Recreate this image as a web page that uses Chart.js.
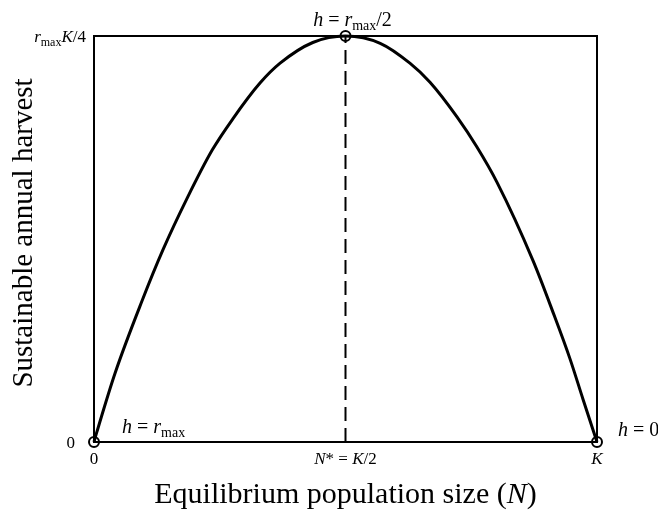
<!DOCTYPE html>
<html>
<head>
<meta charset="utf-8">
<script src="https://cdn.jsdelivr.net/npm/chart.js@4/dist/chart.umd.min.js"></script>
<style>
  html, body { margin: 0; padding: 0; background: #fff; }
  canvas { display: block; }
</style>
</head>
<body>
<canvas id="chartCanvas" width="658" height="511"></canvas>
<script>
// curve: N as % of K, harvest as % of rmax*K/4
const harvestN = [0, 0.6, 4.2, 9.5, 13.7, 18.5, 23.5, 27.6, 33.0, 37.0, 43.5, 50, 56.9, 62.8, 66.8, 72.2, 76.1, 80.1, 87.3, 91.3, 94.6, 97.2, 100];
const harvestH = [0, 2.6, 17.0, 34.6, 47.3, 60.0, 71.9, 79.6, 88.4, 93.3, 98.4, 100, 98.2, 93.3, 88.6, 80.0, 72.7, 64.0, 44.6, 31.8, 20.6, 10.6, 0];

// open circles
const markN = [0, 50, 100];
const markH = [0, 100, 0];

// dashed line at N* = K/2
const nStar = 50;
const hTop = 100;

// tick labels (parts: i = italic, s = subscript, n = normal)
const xTickValues = [0, 50, 100];
const xTickLabels = [
    [['0', 'n']],
    [['N', 'i'], ['* = ', 'n'], ['K', 'i'], ['/2', 'n']],
    [['K', 'i']]
];
const yTickValues = [0, 100];
const yTickLabels = [
    [['0', 'n']],
    [['r', 'i'], ['max', 's'], ['K', 'i'], ['/4', 'n']]
];

// labels next to the circles
const markLabels = [
    [['h', 'i'], [' = ', 'n'], ['r', 'i'], ['max', 's']],
    [['h', 'i'], [' = ', 'n'], ['r', 'i'], ['max', 's'], ['/2', 'n']],
    [['h', 'i'], [' = 0', 'n']]
];

const xTitle = [['Equilibrium population size (', 'n'], ['N', 'i'], [')', 'n']];
const yTitle = 'Sustainable annual harvest';

const FONT = '"Liberation Serif", "Times New Roman", serif';

function partFont(style, size) {
    if (style == 's') return `${Math.round(size * 0.68)}px ${FONT}`;
    if (style == 'i') return `italic ${size}px ${FONT}`;
    return `${size}px ${FONT}`;
}

function richWidth(ctx, parts, size) {
    let w = 0;
    parts.forEach(p => {
        ctx.font = partFont(p[1], size);
        w += ctx.measureText(p[0]).width;
    });
    return w;
}

// draws text pieces on one baseline; align is left / center / right
function drawRich(ctx, parts, x, y, align, size) {
    const w = richWidth(ctx, parts, size);
    let cx = x;
    if (align == 'center') cx = x - w / 2;
    if (align == 'right') cx = x - w;
    ctx.textBaseline = 'alphabetic';
    ctx.textAlign = 'left';
    parts.forEach(p => {
        ctx.font = partFont(p[1], size);
        const dy = p[1] == 's' ? size * 0.22 : 0;
        ctx.fillText(p[0], cx, y + dy);
        cx += ctx.measureText(p[0]).width;
    });
}

const textPlugin = {
    id: 'textPlugin',
    beforeDatasetsDraw(chart) {
        const { ctx, chartArea } = chart;
        ctx.save();
        ctx.strokeStyle = '#000';
        ctx.lineWidth = 2;
        ctx.strokeRect(chartArea.left, chartArea.top, chartArea.right - chartArea.left, chartArea.bottom - chartArea.top);
        ctx.restore();
    },
    afterDraw(chart) {
        const { ctx, chartArea } = chart;
        const xs = chart.scales.x;
        const ys = chart.scales.y;
        ctx.save();
        ctx.fillStyle = '#000';

        xTickValues.forEach((v, i) => {
            drawRich(ctx, xTickLabels[i], xs.getPixelForValue(v), ys.getPixelForValue(0) + 22, 'center', 17);
        });
        // the bottom "0" sits further from the axis than the top label
        yTickValues.forEach((v, i) => {
            const gap = i == 0 ? 19 : 8;
            drawRich(ctx, yTickLabels[i], xs.getPixelForValue(0) - gap, ys.getPixelForValue(v) + 6, 'right', 17);
        });

        drawRich(ctx, markLabels[0], xs.getPixelForValue(markN[0]) + 28, ys.getPixelForValue(markH[0]) - 9, 'left', 20);
        drawRich(ctx, markLabels[1], xs.getPixelForValue(markN[1]) + 7, ys.getPixelForValue(markH[1]) - 10, 'center', 20);
        drawRich(ctx, markLabels[2], xs.getPixelForValue(markN[2]) + 21, ys.getPixelForValue(markH[2]) - 6, 'left', 20);

        drawRich(ctx, xTitle, (chartArea.left + chartArea.right) / 2, 503, 'center', 30);

        ctx.translate(32, (chartArea.top + chartArea.bottom) / 2 - 6);
        ctx.rotate(-Math.PI / 2);
        drawRich(ctx, [[yTitle, 'n']], 0, 0, 'center', 29);
        ctx.restore();
    }
};

const ctx = document.getElementById('chartCanvas').getContext('2d');
const chart = new Chart(ctx, {
    type: 'scatter',
    data: {
        datasets: [{
            label: 'harvest',
            data: harvestN.map((n, i) => ({ x: n, y: harvestH[i] })),
            showLine: true,
            borderColor: '#000',
            borderWidth: 3,
            pointRadius: 0,
            cubicInterpolationMode: 'monotone',
            clip: false
        }, {
            label: 'N*',
            data: [{ x: nStar, y: 0 }, { x: nStar, y: hTop }],
            showLine: true,
            borderColor: '#000',
            borderWidth: 2,
            borderDash: [14, 7],
            pointRadius: 0
        }, {
            label: 'marks',
            data: markN.map((n, i) => ({ x: n, y: markH[i] })),
            pointRadius: 5,
            pointBorderWidth: 2,
            pointBorderColor: '#000',
            pointBackgroundColor: 'rgba(0,0,0,0)',
            clip: false
        }]
    },
    options: {
        responsive: false,
        animation: false,
        layout: {
            padding: { left: 94, right: 61, top: 36, bottom: 69 }
        },
        scales: {
            x: { type: 'linear', min: 0, max: 100, display: false },
            y: { type: 'linear', min: 0, max: 100, display: false }
        },
        plugins: {
            legend: { display: false },
            tooltip: { enabled: false }
        }
    },
    plugins: [textPlugin]
});
</script>
</body>
</html>
